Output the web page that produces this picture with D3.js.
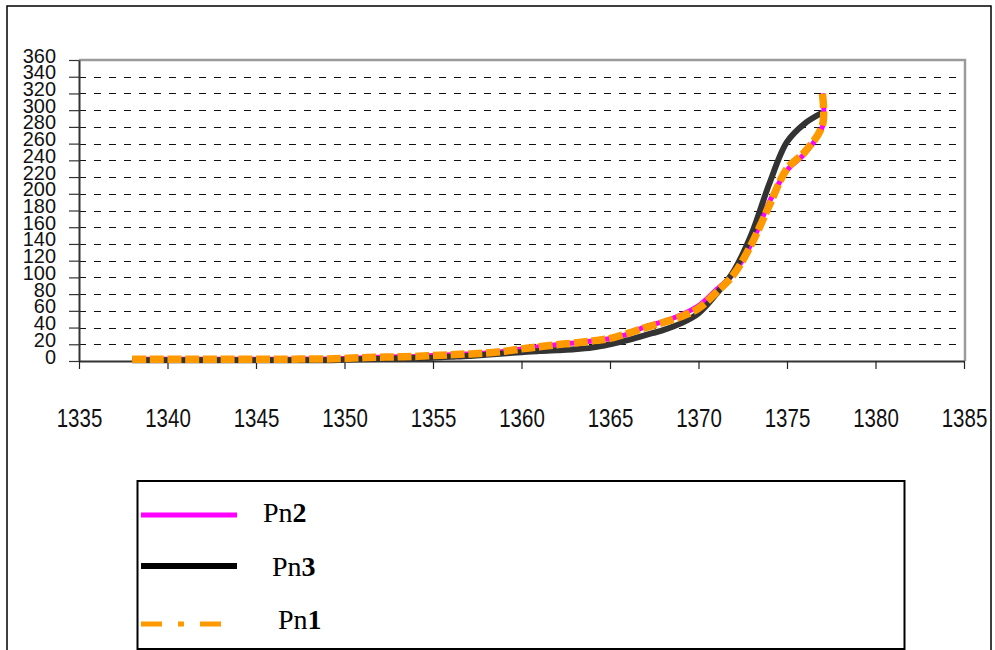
<!DOCTYPE html>
<html>
<head>
<meta charset="utf-8">
<script src="https://cdn.jsdelivr.net/npm/d3@7"></script>
<style>
  html, body { margin: 0; padding: 0; background: #fff; }
  svg { display: block; }
</style>
</head>
<body>
<svg id="chart" width="995" height="650"></svg>
<script>
// Years of observation (Pn3 has one point per year)
const years = [1338, 1339, 1340, 1341, 1342, 1343, 1344, 1345, 1346, 1347,
               1348, 1349, 1350, 1351, 1352, 1353, 1354, 1355, 1356, 1357,
               1358, 1359, 1360, 1361, 1362, 1363, 1364, 1365, 1366, 1367,
               1368, 1369, 1370, 1371, 1372, 1373, 1374, 1375, 1376, 1377];
// Pn1 and Pn2 carry a second reading in the last year
const yearsPn12 = [1338, 1339, 1340, 1341, 1342, 1343, 1344, 1345, 1346, 1347,
                   1348, 1349, 1350, 1351, 1352, 1353, 1354, 1355, 1356, 1357,
                   1358, 1359, 1360, 1361, 1362, 1363, 1364, 1365, 1366, 1367,
                   1368, 1369, 1370, 1371, 1372, 1373, 1374, 1375, 1376, 1377, 1377];

const pn1 = [2, 2, 2, 2, 2, 2, 2, 2, 2, 2,
             2.5, 2.5, 3, 4, 4.5, 5, 5.5, 6.5, 7.5, 8.5,
             9.5, 11.5, 14.5, 17, 19.5, 21.5, 24, 27, 33, 40,
             46, 53, 63, 82, 104, 140, 186, 230, 250, 282, 320];
const pn2 = [2, 2, 2, 2, 2, 2, 2, 2, 2, 2,
             2.5, 2.5, 3, 4, 4.5, 5, 5.5, 6.5, 7.5, 8.5,
             9.5, 11.5, 14.5, 17, 19.5, 21.5, 24, 27, 32, 41,
             47, 55, 66, 85, 105, 141, 190, 228, 248, 280, 320];
const pn3 = [1, 1, 1, 1, 1, 1, 1, 1, 1, 1,
             1, 1, 1.5, 2, 2.5, 3, 3.5, 4, 5, 6,
             7.5, 9, 10.5, 12, 13, 14, 16, 20, 25, 31,
             37, 45, 57, 80, 108, 152, 212, 262, 284, 297];

const yTicks = [0, 20, 40, 60, 80, 100, 120, 140, 160, 180, 200,
                220, 240, 260, 280, 300, 320, 340, 360];
const xTicks = [1335, 1340, 1345, 1350, 1355, 1360, 1365, 1370, 1375, 1380, 1385];

const seriesNames = ["Pn2", "Pn3", "Pn1"];

const svg = d3.select("#chart");

// Outer frame
svg.append("rect")
  .attr("x", 7).attr("y", 6).attr("width", 984).attr("height", 660)
  .attr("fill", "none").attr("stroke", "#000").attr("stroke-width", 1.5);

const plotLeft = 79, plotRight = 964, plotTop = 60, plotBottom = 361;
const x = d3.scaleLinear().domain([1335, 1385]).range([plotLeft, plotRight]);
const y = d3.scaleLinear().domain([0, 360]).range([plotBottom, plotTop]);

// Dashed horizontal grid
svg.append("g")
  .selectAll("line")
  .data(yTicks.filter(v => v > 0 && v < 360))
  .join("line")
  .attr("x1", plotLeft).attr("x2", plotRight + 1)
  .attr("y1", d => Math.round(y(d)) + 0.5).attr("y2", d => Math.round(y(d)) + 0.5)
  .attr("stroke", "#111").attr("stroke-width", 1)
  .attr("stroke-dasharray", "7,8");

// Plot frame: grey top and right edges
svg.append("path")
  .attr("d", `M${plotLeft},${plotTop}H${plotRight + 1}V${plotBottom}`)
  .attr("fill", "none").attr("stroke", "#9a9a9a").attr("stroke-width", 2.5);

// Y axis
const yAxis = svg.append("g")
  .attr("transform", `translate(${plotLeft},0)`)
  .call(d3.axisLeft(y).tickValues(yTicks).tickSize(10).tickSizeOuter(0));
yAxis.select(".domain").attr("stroke", "#333").attr("stroke-width", 2);
yAxis.selectAll(".tick line").attr("stroke", "#333").attr("stroke-width", 1.2);
yAxis.selectAll(".tick text")
  .attr("x", 0).attr("dy", null)
  .attr("transform", "translate(-23,2) scale(0.95,1)")
  .attr("text-anchor", "end")
  .attr("font-family", "'Liberation Sans', Arial, sans-serif")
  .attr("font-size", 21).attr("fill", "#111");

// X axis
const xAxis = svg.append("g")
  .attr("transform", `translate(0,${plotBottom})`)
  .call(d3.axisBottom(x).tickValues(xTicks).tickFormat(d3.format("d")).tickSize(8).tickSizeOuter(0));
xAxis.select(".domain").attr("stroke", "#333").attr("stroke-width", 2);
xAxis.selectAll(".tick line").attr("stroke", "#222").attr("stroke-width", 1.2);
xAxis.selectAll(".tick text")
  .attr("y", 0).attr("dy", null)
  .attr("transform", "translate(0,66) scale(0.82,1)")
  .attr("text-anchor", "middle")
  .attr("font-family", "'Liberation Sans', Arial, sans-serif")
  .attr("font-size", 25).attr("fill", "#111");

// Series lines
const line = d3.line()
  .x(d => x(d[0]))
  .y(d => y(d[1]))
  .curve(d3.curveCatmullRom.alpha(0.5));

const seriesPn2 = yearsPn12.map((yr, i) => [yr, pn2[i]]);
const seriesPn3 = years.map((yr, i) => [yr, pn3[i]]);
const seriesPn1 = yearsPn12.map((yr, i) => [yr, pn1[i]]);

svg.append("path").datum(seriesPn2)
  .attr("d", line).attr("fill", "none")
  .attr("stroke", "#ff00ff").attr("stroke-width", 5);
svg.append("path").datum(seriesPn3)
  .attr("d", line).attr("fill", "none")
  .attr("stroke", "#333").attr("stroke-width", 6);
svg.append("path").datum(seriesPn1)
  .attr("d", line).attr("fill", "none")
  .attr("stroke", "#ff9900").attr("stroke-width", 7.5)
  .attr("stroke-dasharray", "14,3.7");

// Legend
const legend = svg.append("g");
legend.append("rect")
  .attr("x", 137.5).attr("y", 481).attr("width", 767).attr("height", 168)
  .attr("fill", "#fff").attr("stroke", "#000").attr("stroke-width", 2);

const legendItems = [
  { name: seriesNames[0], color: "#ff00ff", width: 5, dash: null, ly: 515, tx: 263, ty: 522 },
  { name: seriesNames[1], color: "#000", width: 6, dash: null, ly: 566, tx: 272, ty: 576 },
  { name: seriesNames[2], color: "#ff9900", width: 5, dash: "21,16,6,16,22", ly: 624, tx: 278, ty: 629 }
];
legendItems.forEach(it => {
  const ln = legend.append("line")
    .attr("x1", 141).attr("x2", it.dash ? 221 : 237)
    .attr("y1", it.ly).attr("y2", it.ly)
    .attr("stroke", it.color).attr("stroke-width", it.width);
  if (it.dash) ln.attr("stroke-dasharray", it.dash);
  const t = legend.append("text")
    .attr("x", it.tx).attr("y", it.ty)
    .attr("font-family", "'Liberation Serif', 'Times New Roman', serif")
    .attr("font-size", 28).attr("fill", "#000");
  t.append("tspan").text(it.name.slice(0, 2));
  t.append("tspan").attr("font-weight", "bold").text(it.name.slice(2));
});
</script>
</body>
</html>
